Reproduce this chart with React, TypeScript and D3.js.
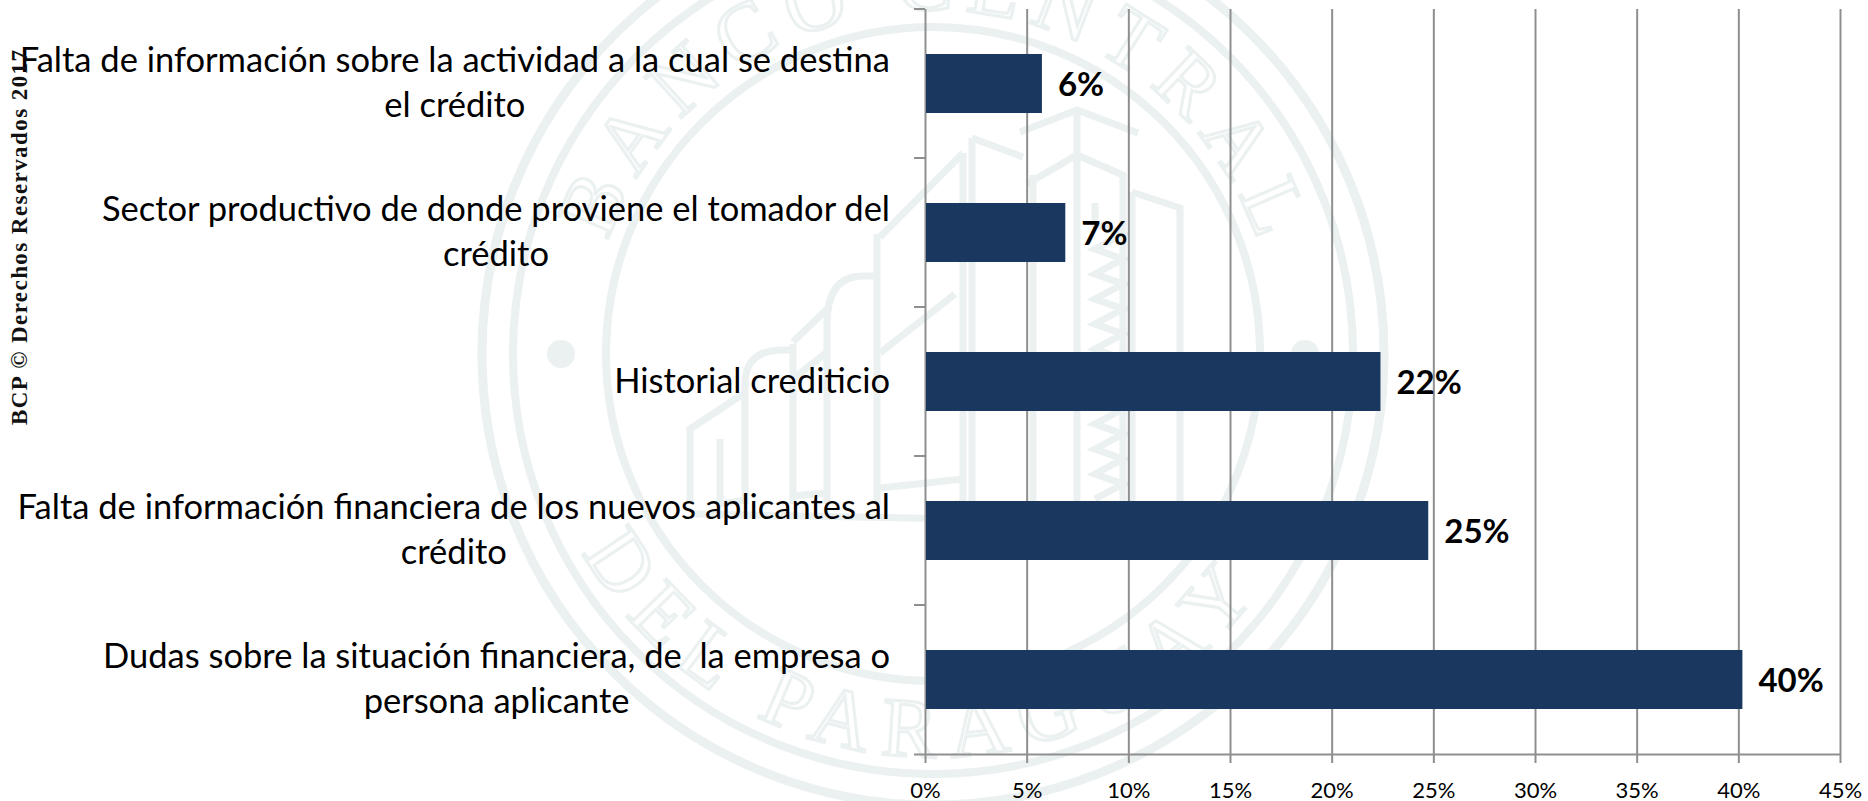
import React, { useEffect, useRef } from 'react';
import * as d3 from 'd3';

const categories = [
  ['Falta de información sobre la actividad a la cual se destina', 'el crédito'],
  ['Sector productivo de donde proviene el tomador del', 'crédito'],
  ['Historial crediticio'],
  ['Falta de información financiera de los nuevos aplicantes al', 'crédito'],
  ['Dudas sobre la situación financiera, de  la empresa o', 'persona aplicante'],
];
const values = [5.75, 6.9, 22.4, 24.75, 40.2];
const valueLabels = ['6%', '7%', '22%', '25%', '40%'];
const xTicks = [0, 5, 10, 15, 20, 25, 30, 35, 40, 45];

const width = 1868;
const height = 801;
const plot = { left: 925, right: 1840, top: 9, bottom: 754 };
const labelRight = 890;
const font = 'Lato, "Noto Sans", sans-serif';
const markColor = '#ebf0f0';

// watermark building outlines, relative to the seal centre
const sealCentre = { x: 933, y: 354 };
const buildings = [
  'M87,-222 L144,-244 L205,-221 M144,-244 L144,150',
  'M94,-170 L144,-199 L190,-179 L190,150 M100,-179 L100,150',
  'M39,-216 L90,-197 M39,-216 L39,150 M30,-201 L30,150 L22,150',
  'M162,-151 L162,-130 L190,-120 L162,-105 L190,-95 L162,-80 L190,-70 L162,-55 L190,-45 L162,-30 L190,-20 L162,-5 L190,5 L162,20 L190,30 L162,45 L190,55 L162,70 L190,80 L162,95 L190,105 L162,120 L190,130 L162,145',
  'M199,-162 L247,-146 L247,150 M199,-162 L199,150',
  'M30,-201 L-53,-117 M-56,-120 L-56,150 M-106,150 L-106,-30 Q-106,-78 -70,-78 L-56,-78',
  'M-106,-45 L-140,-12 M-140,-10 L-140,150 M-188,30 Q-188,-4 -150,-4 L-140,-4 M-188,30 L-188,150',
  'M-243,150 L-243,75 L-190,40 M-213,85 L-213,150 L-188,146',
  'M-53,-1 L22,-60 M-140,25 L-106,-2 M-140,142 L-106,139 M-53,134 L30,125',
  'M-243,160 L30,165',
];

const App = () => {
  const svgRef = useRef<SVGSVGElement | null>(null);

  useEffect(() => {
    const svg = d3.select(svgRef.current);
    svg.selectAll('*').remove();

    const x = d3.scaleLinear().domain([0, 45]).range([plot.left, plot.right]);
    const y = d3.scaleBand<number>()
      .domain(d3.range(categories.length))
      .range([plot.top, plot.bottom])
      .paddingInner(0.604)
      .paddingOuter(0.302);
    const bands = d3.scaleBand<number>()
      .domain(d3.range(categories.length))
      .range([plot.top, plot.bottom]);

    // seal behind the chart
    const seal = svg.append('g')
      .attr('transform', `translate(${sealCentre.x},${sealCentre.y})`)
      .attr('fill', 'none')
      .attr('stroke', markColor);
    [[451, 9], [420, 8], [327, 8]].forEach(([r, w]) => {
      seal.append('circle').attr('r', r).attr('stroke-width', w);
    });
    seal.append('path')
      .attr('stroke-width', 7)
      .attr('d', buildings.join(' '));
    [-372, 372].forEach(cx => {
      seal.append('circle').attr('cx', cx).attr('r', 14)
        .attr('fill', markColor).attr('stroke', 'none');
    });
    const arc = d3.path();
    arc.arc(0, 0, 344, -Math.PI, 0);
    seal.append('path').attr('id', 'seal-top').attr('d', arc.toString()).attr('stroke', 'none');
    const arcBottom = d3.path();
    arcBottom.arc(0, 0, 403, Math.PI, 0, true);
    seal.append('path').attr('id', 'seal-bottom').attr('d', arcBottom.toString()).attr('stroke', 'none');
    [
      { id: 'seal-top', text: 'BANCO CENTRAL', len: 850, offset: '50%' },
      { id: 'seal-bottom', text: 'DEL PARAGUAY', len: 800, offset: '48%' },
    ].forEach(s => {
      seal.append('text')
        .attr('font-family', '"Liberation Serif", serif')
        .attr('font-size', 84)
        .attr('stroke-width', 3)
        .append('textPath')
        .attr('href', `#${s.id}`)
        .attr('startOffset', s.offset)
        .attr('text-anchor', 'middle')
        .attr('textLength', s.len)
        .text(s.text);
    });

    // axes
    const xAxis = svg.append('g')
      .attr('transform', `translate(0,${plot.bottom})`)
      .call(d3.axisBottom(x).tickValues(xTicks).tickFormat(d => `${d}%`).tickSize(9).tickPadding(19).tickSizeOuter(0));
    xAxis.select('.domain').attr('stroke', '#8f8f8f').attr('stroke-width', 2).attr('d', `M${plot.left - 11},0.5H${plot.right}`);
    xAxis.selectAll('.tick line')
      .attr('y1', plot.top - plot.bottom)
      .attr('stroke', '#8f8f8f')
      .attr('stroke-width', 2);
    xAxis.selectAll('.tick text')
      .attr('font-family', font)
      .attr('font-size', 22)
      .attr('fill', '#000');

    // category ticks sit on the band edges
    svg.append('g')
      .selectAll('line')
      .data(d3.range(categories.length))
      .join('line')
      .attr('x1', plot.left - 11)
      .attr('x2', plot.left)
      .attr('y1', d => bands(d) as number)
      .attr('y2', d => bands(d) as number)
      .attr('stroke', '#8f8f8f')
      .attr('stroke-width', 2);

    // bars
    svg.append('g')
      .selectAll('rect')
      .data(values)
      .join('rect')
      .attr('x', x(0) + 1)
      .attr('y', (_, i) => y(i) as number)
      .attr('width', d => x(d) - x(0) - 1)
      .attr('height', y.bandwidth())
      .attr('fill', '#1a385f');

    // value labels
    svg.append('g')
      .selectAll('text')
      .data(values)
      .join('text')
      .attr('x', d => x(d) + 16)
      .attr('y', (_, i) => (bands(i) as number) + bands.bandwidth() / 2 + 12)
      .attr('font-family', font)
      .attr('font-size', 33)
      .attr('font-weight', 700)
      .attr('fill', '#000')
      .text((_, i) => valueLabels[i]);

    // category labels: first line right aligned, the second centred under it
    categories.forEach((lines, i) => {
      const mid = (bands(i) as number) + bands.bandwidth() / 2;
      const first = svg.append('text')
        .attr('font-family', font)
        .attr('font-size', 34.5)
        .attr('fill', '#000')
        .attr('xml:space', 'preserve')
        .style('white-space', 'pre')
        .attr('text-anchor', 'middle')
        .attr('y', mid + (lines.length > 1 ? -11.5 : 11.5))
        .text(lines[0]);
      const w = (first.node() as SVGTextElement).getComputedTextLength();
      const cx = labelRight - w / 2;
      first.attr('x', cx);
      if (lines[1]) {
        svg.append('text')
          .attr('font-family', font)
          .attr('font-size', 34.5)
          .attr('fill', '#000')
          .attr('text-anchor', 'middle')
          .attr('x', cx)
          .attr('y', mid + 33.5)
          .text(lines[1]);
      }
    });

    // copyright on the left edge
    svg.append('text')
      .attr('transform', 'translate(27,425) rotate(-90)')
      .attr('font-family', '"Liberation Serif", serif')
      .attr('font-weight', 700)
      .attr('font-size', 23)
      .attr('fill', '#111')
      .attr('textLength', 375)
      .text('BCP © Derechos Reservados 2017');
  }, []);

  return (
    <svg
      ref={svgRef}
      width={width}
      height={height}
      style={{ position: 'absolute', left: 0, top: 0, background: '#fff' }}
    />
  );
};

export default App;
